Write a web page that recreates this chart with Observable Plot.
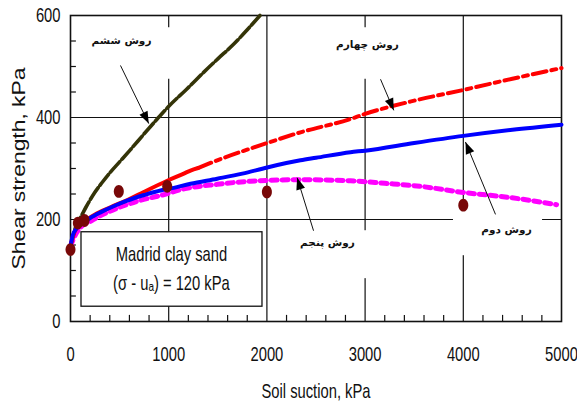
<!DOCTYPE html>
<html><head><meta charset="utf-8">
<script src="https://cdn.jsdelivr.net/npm/d3@7"></script>
<script src="https://cdn.jsdelivr.net/npm/@observablehq/plot@0.6"></script>
<style>
body{margin:0;background:#fff;}
#chart svg{display:block;}
</style>
</head><body><div id="chart"></div>
<script>
// ---- data (suction kPa, shear strength kPa) ----
const suctionTicks = [0, 1000, 2000, 3000, 4000, 5000];
const strengthTicks = [0, 200, 400, 600];
const gridSuction = [1000, 2000, 3000, 4000];
const gridStrength = [200, 400];
const minorSuction = [200,400,600,800,1200,1400,1600,1800,2200,2400,2600,2800,3200,3400,3600,3800,4200,4400,4600,4800];
const minorStrength = [50,100,150,250,300,350,450,500,550];

// روش دوم (blue)
const method2 = [[0,148],[25,170],[60,182],[102,190],[200,203],[305,214],[450,227],[577,237],[750,248],[916,257],[1000,260],[1222,270],[1494,280],[1750,290],[2003,302],[2342,316],[2500,321],[2851,332],[3000,335],[3500,350],[4000,364],[4500,376],[5000,386]];
// روش چهارم (red)
const method4 = [[0,148],[40,175],[100,192],[133,196],[250,210],[407,224],[600,240],[746,254],[985,276],[1154,290],[1222,296],[1300,301],[1494,316],[2003,350],[2342,371],[2851,397],[3000,407],[3500,433],[4000,454],[4500,476],[5000,497]];
// روش پنجم (magenta)
const method5 = [[0,148],[50,170],[100,184],[200,196],[300,207],[500,224],[700,237],[916,247],[1154,260],[1494,269],[1833,275],[2342,278],[2851,276],[3200,271],[3564,265],[4000,253],[4480,243],[4950,229]];
// روش ششم (olive)
const method6 = [[0,148],[30,170],[60,190],[102,204],[160,225],[237,250],[320,272],[407,293],[500,313],[611,337],[750,368],[883,397],[1001,422],[1180,455],[1358,489],[1500,515],[1663,544],[1800,572],[1930,600]];
// measured
const measSuction = [0, 75, 143, 492, 985, 2000, 4000];
const measStrength = [141, 193, 198, 255, 265, 254, 228];

// annotations (data units)
const labelText = ["روش ششم", "روش چهارم", "روش پنجم", "روش دوم"];
const labelX = [519, 3024, 2617, 4440];
const labelY = [551, 543, 155, 180];
const arrowX1 = [509, 3157, 2475, 4328];
const arrowY1 = [502, 475, 178, 210];
const arrowX2 = [797, 3292, 2308, 4022];
const arrowY2 = [388, 414, 282, 352];
const maskX1 = [183, 2648, 2240, 3900];
const maskX2 = [1100, 3360, 3075, 4807];
const maskY1 = [475, 475, 84, 129];
const maskY2 = [576, 576, 178, 222];
const legendLines = ["Madrid clay sand", "(σ - uₐ) = 120 kPa"];
const legendBox = {x1: 112, x2: 1955, y1: 29, y2: 175};
const legendLineY = [131, 75];

// ---- layout ----
const W = 577, H = 406, ML = 70, MR = 16, MT = 15, MB = 85;
const kx = (W - ML - MR) / 5000, ky = (H - MT - MB) / 600;
const SANS = "'Liberation Sans',Arial,sans-serif";

const toPts = a => a.map(([s, v]) => ({s, v}));
const m2 = toPts(method2), m4 = toPts(method4), m5 = toPts(method5), m6 = toPts(method6);
const meas = measSuction.map((s, i) => ({s, v: measStrength[i]}));
const labels = labelText.map((t, i) => ({t, x: labelX[i], y: labelY[i]}));
const arrows = arrowX1.map((x1, i) => {
  const a = {x1, y1: arrowY1[i], x2: arrowX2[i], y2: arrowY2[i]};
  const dx = (a.x2 - a.x1) * kx, dy = -(a.y2 - a.y1) * ky;
  a.angle = Math.atan2(dx, -dy) * 180 / Math.PI;
  return a;
});
const masks = maskX1.map((x1, i) => ({x1, x2: maskX2[i], y1: maskY1[i], y2: maskY2[i]}));
const legendRows = legendLines.map((t, i) => ({t, y: legendLineY[i]}));

const ellipse = {draw(ctx) {
  const rx = 5, ry = 6.4, k = 0.5523;
  ctx.moveTo(rx, 0);
  ctx.bezierCurveTo(rx, ry * k, rx * k, ry, 0, ry);
  ctx.bezierCurveTo(-rx * k, ry, -rx, ry * k, -rx, 0);
  ctx.bezierCurveTo(-rx, -ry * k, -rx * k, -ry, 0, -ry);
  ctx.bezierCurveTo(rx * k, -ry, rx, -ry * k, rx, 0);
  ctx.closePath();
}};
const head = {draw(ctx) {
  ctx.moveTo(0, 0); ctx.lineTo(-4.5, 12); ctx.lineTo(4.5, 12); ctx.closePath();
}};

const plot = Plot.plot({
  width: W, height: H,
  marginLeft: ML, marginRight: MR, marginTop: MT, marginBottom: MB,
  style: {fontFamily: SANS, fontSize: "18px", color: "#111", background: "#fff"},
  x: {domain: [0, 5000]},
  y: {domain: [0, 600]},
  marks: [
    Plot.gridX(gridSuction, {stroke: "#111", strokeOpacity: 1, strokeWidth: 1.2}),
    Plot.gridY(gridStrength, {stroke: "#111", strokeOpacity: 1, strokeWidth: 1.2}),
    Plot.rect(masks, {x1: "x1", x2: "x2", y1: "y1", y2: "y2", fill: "white"}),
    Plot.ruleX(minorSuction, {x: d => d, y1: 0, y2: 12, stroke: "#111", strokeWidth: 1.2}),
    Plot.ruleY(minorStrength, {y: d => d, x1: 0, x2: 60, stroke: "#111", strokeWidth: 1.2}),
    Plot.frame({stroke: "#111", strokeWidth: 1.6}),
    Plot.axisX(suctionTicks, {tickSize: 0, tickPadding: 25, fontSize: 18, label: null, tickFormat: d => String(d), className: "narrow"}),
    Plot.axisY(strengthTicks, {tickSize: 0, tickPadding: 10, fontSize: 18, label: null, tickFormat: d => String(d), className: "narrow"}),
    Plot.text(["Soil suction, kPa"], {frameAnchor: "bottom", dy: 62, lineAnchor: "top", textAnchor: "middle", fontSize: 18, className: "narrow"}),
    Plot.text(["Shear strength, kPa"], {frameAnchor: "left", dx: -58, rotate: -90, lineAnchor: "top", textAnchor: "middle", fontSize: 18, className: "ylab"}),
    // curves
    Plot.line(m5, {x: "s", y: "v", stroke: "#ff00ff", strokeWidth: 5, strokeDasharray: "6,5", curve: "monotone-x"}),
    Plot.line(m6, {x: "s", y: "v", stroke: "#343408", strokeWidth: 3.6, strokeDasharray: "14,3", curve: "monotone-x"}),
    Plot.line(m4.filter(d => d.s <= 1300), {x: "s", y: "v", stroke: "#ff0000", strokeWidth: 4, curve: "monotone-x"}),
    Plot.line(m4.filter(d => d.s >= 1300), {x: "s", y: "v", stroke: "#ff0000", strokeWidth: 4, strokeDasharray: "14,5,5,5", curve: "monotone-x"}),
    Plot.line(m2, {x: "s", y: "v", stroke: "#0000ff", strokeWidth: 4, curve: "monotone-x"}),
    Plot.dot(meas, {x: "s", y: "v", symbol: ellipse, fill: "#780808", stroke: "none"}),
    // annotations
    Plot.link(arrows, {x1: "x1", y1: "y1", x2: "x2", y2: "y2", stroke: "#111", strokeWidth: 1}),
    Plot.dot(arrows, {x: "x2", y: "y2", symbol: head, rotate: "angle", fill: "#000", stroke: "none"}),
    Plot.text(labels, {x: "x", y: "y", text: "t", fontFamily: "'DejaVu Sans',sans-serif", fontWeight: "bold", fontSize: 10.5, fill: "#111"}),
    Plot.rect([legendBox], {x1: "x1", x2: "x2", y1: "y1", y2: "y2", fill: "white", stroke: "#111", strokeWidth: 1.3}),
    Plot.text(legendRows, {x: 1028, y: "y", text: "t", fontSize: 18, fill: "#111", className: "narrow"})
  ]
});
document.getElementById("chart").appendChild(plot);
const root = d3.select(plot);
// condensed look of the reference's sans-serif text
root.selectAll(".narrow text").each(function() {
  const t = this.getAttribute("transform");
  if (t) this.setAttribute("transform", t + " scale(0.82,1.1)");
});
// rotated y label is stretched along its length in the reference
root.selectAll(".ylab text").each(function() {
  const t = this.getAttribute("transform") || "";
  this.setAttribute("transform", t + " scale(1.27,1)");
});
</script>
</body></html>
